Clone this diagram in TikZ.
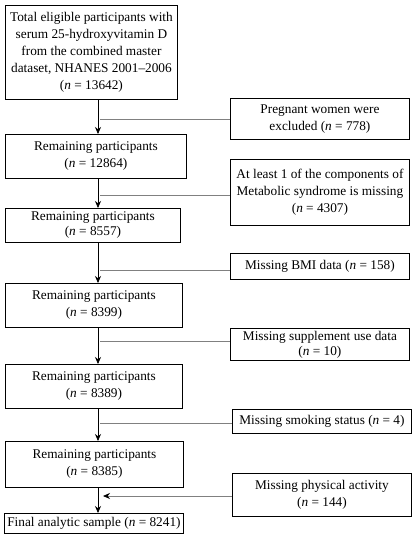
\documentclass[tikz,border=0pt]{standalone}
\usepackage{fontspec}
\setmainfont{Liberation Serif}
\usetikzlibrary{arrows.meta}

\begin{document}
\begin{tikzpicture}[x=1pt,y=-1pt,
    box/.style={draw, line width=0.9pt, anchor=north west, align=center,
      inner sep=2pt, font=\fontsize{13.3}{17}\selectfont},
    flow/.style={-{Stealth[length=7pt,width=6pt]}, line width=0.7pt},
    side/.style={draw=gray, line width=0.8pt}]
    \useasboundingbox (0,0) rectangle (419,550);
    % Definitions:
    \node[box, minimum width=172, minimum height=94] (tot) at (5,5)
      {Total eligible participants with\\serum 25-hydroxyvitamin D\\from the combined master\\dataset, NHANES 2001--2006\\(\textit{n} = 13642)};
    \node[box, minimum width=181, minimum height=44] (rem1) at (5,134)
      {Remaining participants\\(\textit{n} = 12864)};
    \node[box, minimum width=175, minimum height=34, inner sep=0pt,
      font=\fontsize{13.3}{15}\selectfont] (rem2) at (5,208)
      {Remaining participants\\(\textit{n} = 8557)};
    \node[box, minimum width=177, minimum height=44] (rem3) at (5,283)
      {Remaining participants\\(\textit{n} = 8399)};
    \node[box, minimum width=177, minimum height=44] (rem4) at (5,364)
      {Remaining participants\\(\textit{n} = 8389)};
    \node[box, minimum width=178, minimum height=46] (rem5) at (5,441)
      {Remaining participants\\(\textit{n} = 8385)};
    \node[box, minimum width=179, minimum height=20] (fin) at (4,513)
      {Final analytic sample (\textit{n} = 8241)};
    \node[box, minimum width=179, minimum height=41] (preg) at (230,98)
      {Pregnant women were\\excluded (\textit{n} = 778)};
    \node[box, minimum width=179, minimum height=66] (meta) at (230,159)
      {At least 1 of the components of\\Metabolic syndrome is missing\\(\textit{n} = 4307)};
    \node[box, minimum width=179, minimum height=26] (bmi) at (230,253)
      {Missing BMI data (\textit{n} = 158)};
    \node[box, minimum width=179, minimum height=32, inner sep=0pt,
      font=\fontsize{13.3}{15}\selectfont] (supp) at (230,328)
      {Missing supplement use data\\(\textit{n} = 10)};
    \node[box, minimum width=179, minimum height=24] (smok) at (232,409)
      {Missing smoking status (\textit{n} = 4)};
    \node[box, minimum width=179, minimum height=43] (phys) at (232,473)
      {Missing physical activity\\(\textit{n} = 144)};
    \coordinate (j1) at (100,119);
    \coordinate (j2) at (100,195);
    \coordinate (j3) at (100,270);
    \coordinate (j4) at (100,341);
    \coordinate (j5) at (100,423);
    \coordinate (j6) at (103,496);
    % Drawing:
    \draw[flow] (tot.south -| 98,0) -- (rem1.north -| 98,0);
    \draw[flow] (rem1.south -| 98,0) -- (rem2.north -| 98,0);
    \draw[flow] (rem2.south -| 98,0) -- (rem3.north -| 98,0);
    \draw[flow] (rem3.south -| 98,0) -- (rem4.north -| 98,0);
    \draw[flow] (rem4.south -| 98,0) -- (rem5.north -| 98,0);
    \draw[flow] (rem5.south -| 98,0) -- (fin.north -| 98,0);
    \draw[side] (j1) -- (preg.west |- j1);
    \draw[side] (j2) -- (meta.west |- j2);
    \draw[side] (j3) -- (bmi.west |- j3);
    \draw[side] (j4) -- (supp.west |- j4);
    \draw[side] (j5) -- (smok.west |- j5);
    \draw[side, -{Stealth[length=7pt,width=6pt,color=black]}] (phys.west |- j6) -- (j6);
  \end{tikzpicture}
\end{document}
